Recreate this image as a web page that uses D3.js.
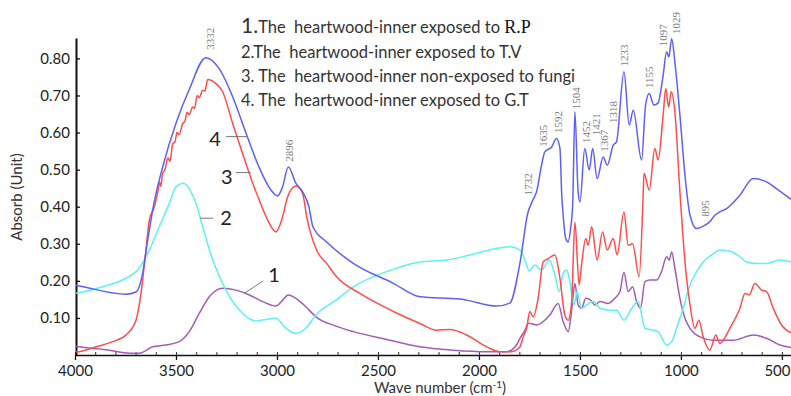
<!DOCTYPE html>
<html lang="en">
<head>
    <meta charset="UTF-8" />
    <title>FTIR spectra of heartwood-inner</title>
    <script src="https://d3js.org/d3.v7.min.js"></script>
    <style>
        body { margin: 0; background: #fff; }
        svg { display: block; }
        .legend text { white-space: pre; }
    </style>
</head>
<body>
<div id="my_chart"></div>
<script>
    // Curve 1 - exposed to R.P (purple)
    var rpWave = [4000, 3979, 3830, 3731, 3682, 3615, 3550, 3484, 3434, 3385, 3335, 3269, 3203, 3137, 3071, 3005, 2972, 2944, 2906, 2857, 2807, 2708, 2622, 2457, 2292, 2127, 1962, 1863, 1814, 1797, 1772, 1756, 1744, 1715, 1649, 1608, 1583, 1558, 1541, 1525, 1509, 1492, 1471, 1447, 1426, 1401, 1360, 1327, 1302, 1282, 1261, 1239, 1220, 1200, 1178, 1154, 1121, 1096, 1071, 1058, 1046, 1030, 1005, 980, 955, 906, 840, 741, 642, 576, 510, 455];
    var rpAbs = [0.024, 0.022, 0.013, 0.005, 0.005, 0.022, 0.027, 0.036, 0.063, 0.112, 0.157, 0.180, 0.175, 0.162, 0.144, 0.132, 0.148, 0.162, 0.153, 0.130, 0.103, 0.078, 0.063, 0.042, 0.022, 0.013, 0.009, 0.009, 0.027, 0.045, 0.067, 0.085, 0.085, 0.081, 0.108, 0.139, 0.090, 0.063, 0.121, 0.193, 0.135, 0.126, 0.153, 0.148, 0.135, 0.144, 0.139, 0.153, 0.171, 0.223, 0.171, 0.184, 0.144, 0.126, 0.198, 0.202, 0.202, 0.225, 0.265, 0.256, 0.278, 0.234, 0.153, 0.099, 0.072, 0.049, 0.040, 0.040, 0.054, 0.045, 0.027, 0.020];

    // Curve 2 - exposed to T.V (cyan)
    var tvWave = [4000, 3979, 3863, 3748, 3690, 3632, 3583, 3533, 3500, 3464, 3426, 3401, 3368, 3318, 3253, 3170, 3104, 3005, 2956, 2906, 2857, 2807, 2708, 2622, 2457, 2292, 2160, 2045, 1913, 1847, 1797, 1772, 1751, 1723, 1690, 1652, 1624, 1603, 1583, 1566, 1550, 1530, 1514, 1492, 1467, 1434, 1401, 1352, 1319, 1282, 1244, 1212, 1178, 1137, 1113, 1071, 1046, 1022, 989, 955, 922, 890, 848, 807, 758, 708, 675, 626, 576, 510, 455];
    var tvAbs = [0.166, 0.168, 0.184, 0.207, 0.229, 0.283, 0.346, 0.409, 0.454, 0.463, 0.440, 0.409, 0.346, 0.256, 0.175, 0.112, 0.092, 0.099, 0.072, 0.058, 0.072, 0.108, 0.148, 0.184, 0.225, 0.251, 0.256, 0.270, 0.287, 0.292, 0.283, 0.256, 0.227, 0.243, 0.229, 0.256, 0.216, 0.171, 0.220, 0.229, 0.198, 0.135, 0.171, 0.126, 0.135, 0.144, 0.126, 0.121, 0.121, 0.094, 0.126, 0.144, 0.072, 0.067, 0.063, 0.027, 0.036, 0.072, 0.126, 0.189, 0.225, 0.251, 0.270, 0.283, 0.280, 0.265, 0.251, 0.247, 0.247, 0.256, 0.251];

    // Curve 3 - non-exposed to fungi (red)
    var fungiWave = [4000, 3979, 3896, 3813, 3748, 3698, 3673, 3649, 3632, 3607, 3590, 3580, 3575, 3566, 3555, 3540, 3530, 3516, 3505, 3495, 3485, 3467, 3455, 3445, 3435, 3417, 3408, 3395, 3385, 3368, 3357, 3343, 3302, 3269, 3219, 3170, 3120, 3088, 3046, 3005, 2972, 2947, 2906, 2873, 2853, 2804, 2754, 2705, 2589, 2426, 2292, 2210, 2144, 2061, 1962, 1896, 1838, 1797, 1781, 1764, 1748, 1731, 1707, 1682, 1657, 1624, 1599, 1575, 1558, 1541, 1525, 1504, 1492, 1471, 1459, 1442, 1415, 1388, 1365, 1335, 1316, 1282, 1261, 1239, 1207, 1187, 1183, 1157, 1129, 1113, 1088, 1075, 1061, 1048, 1030, 1005, 980, 955, 931, 911, 890, 857, 827, 807, 758, 708, 683, 662, 634, 601, 576, 543, 502, 455];
    var fungiAbs = [0.008, 0.009, 0.022, 0.036, 0.054, 0.094, 0.167, 0.283, 0.364, 0.400, 0.440, 0.466, 0.455, 0.490, 0.500, 0.532, 0.522, 0.570, 0.575, 0.600, 0.594, 0.624, 0.632, 0.655, 0.648, 0.669, 0.665, 0.700, 0.694, 0.714, 0.712, 0.743, 0.732, 0.710, 0.624, 0.543, 0.463, 0.418, 0.364, 0.332, 0.373, 0.427, 0.456, 0.436, 0.373, 0.283, 0.247, 0.211, 0.166, 0.118, 0.085, 0.067, 0.069, 0.054, 0.022, 0.009, 0.009, 0.022, 0.049, 0.072, 0.117, 0.103, 0.153, 0.251, 0.260, 0.270, 0.207, 0.108, 0.094, 0.144, 0.359, 0.189, 0.243, 0.314, 0.296, 0.346, 0.256, 0.332, 0.283, 0.314, 0.270, 0.386, 0.296, 0.300, 0.211, 0.431, 0.490, 0.445, 0.557, 0.526, 0.647, 0.719, 0.669, 0.710, 0.656, 0.440, 0.251, 0.135, 0.072, 0.094, 0.049, 0.013, 0.054, 0.031, 0.072, 0.126, 0.166, 0.162, 0.193, 0.175, 0.171, 0.126, 0.081, 0.060];

    // Curve 4 - exposed to G.T (blue)
    var gtWave = [4000, 3979, 3748, 3698, 3665, 3640, 3609, 3566, 3500, 3436, 3352, 3287, 3219, 3153, 3089, 3030, 2997, 2972, 2944, 2906, 2873, 2842, 2822, 2754, 2624, 2426, 2292, 2094, 2061, 1913, 1847, 1797, 1758, 1733, 1715, 1690, 1674, 1640, 1616, 1599, 1590, 1583, 1571, 1558, 1546, 1536, 1525, 1509, 1500, 1476, 1454, 1437, 1415, 1385, 1365, 1335, 1319, 1282, 1256, 1236, 1195, 1175, 1157, 1134, 1113, 1088, 1071, 1060, 1046, 1030, 1005, 980, 955, 922, 881, 856, 832, 807, 774, 708, 642, 576, 527, 455];
    var gtAbs = [0.188, 0.186, 0.164, 0.170, 0.221, 0.310, 0.410, 0.507, 0.625, 0.714, 0.802, 0.773, 0.696, 0.598, 0.507, 0.445, 0.429, 0.454, 0.507, 0.463, 0.440, 0.400, 0.346, 0.305, 0.248, 0.194, 0.157, 0.151, 0.148, 0.132, 0.140, 0.248, 0.383, 0.418, 0.440, 0.512, 0.548, 0.561, 0.584, 0.557, 0.431, 0.377, 0.315, 0.305, 0.342, 0.404, 0.656, 0.440, 0.413, 0.557, 0.499, 0.557, 0.476, 0.534, 0.512, 0.566, 0.575, 0.764, 0.620, 0.660, 0.526, 0.674, 0.705, 0.674, 0.680, 0.755, 0.818, 0.804, 0.853, 0.790, 0.647, 0.485, 0.377, 0.341, 0.350, 0.360, 0.377, 0.386, 0.395, 0.431, 0.476, 0.467, 0.449, 0.420];

    // Peak labels (anchor = bottom of the rotated text, in data units)
    var peakLabels = ["3332", "2896", "1732", "1635", "1592", "1504", "1452", "1421", "1367", "1318", "1233", "1155", "1097", "1029", "895"];
    var peakWave = [3332, 2939, 1756, 1684, 1607, 1519, 1470, 1420, 1381, 1338, 1282, 1158, 1090, 1024, 881];
    var peakAbs = [0.823, 0.521, 0.431, 0.562, 0.599, 0.663, 0.572, 0.593, 0.548, 0.626, 0.778, 0.720, 0.833, 0.866, 0.373];

    // Curve number tags with leader lines
    var tagLabels = ["1", "2", "3", "4"];
    var tagWave = [3015, 3252, 3249, 3307];
    var tagAbs = [0.216, 0.369, 0.481, 0.583];
    var leadFromWave = [3068, 3315, 3203, 3252];
    var leadFromAbs = [0.200, 0.369, 0.492, 0.589];
    var leadToWave = [3163, 3381, 3130, 3147];
    var leadToAbs = [0.166, 0.369, 0.492, 0.589];

    var legendLabels = [
        "The  heartwood-inner exposed to ",
        "2.The  heartwood-inner exposed to T.V",
        "3. The  heartwood-inner non-exposed to fungi",
        "4. The  heartwood-inner exposed to G.T"
    ];

    var xTicks = [4000, 3500, 3000, 2500, 2000, 1500, 1000, 500];
    var yTicks = [0.1, 0.2, 0.3, 0.4, 0.5, 0.6, 0.7, 0.8];

    var width = 791, height = 396;
    var sansFont = "Lato, 'Open Sans', sans-serif";

    const svg = d3.select("#my_chart")
        .append("svg")
        .attr("width", width)
        .attr("height", height)
        .style("background", "#fff");

    const x = d3.scaleLinear().domain([4000, 455]).range([75, 791]);
    const y = d3.scaleLinear().domain([0, 0.855]).range([355, 38]);

    // Minor x ticks
    svg.append("g")
        .attr("transform", "translate(0,355)")
        .call(d3.axisBottom(x).tickValues(d3.range(500, 4001, 100)).tickSize(-3).tickFormat("").tickSizeOuter(0))
        .call(g => g.select(".domain").remove())
        .selectAll("line").attr("stroke", "#333");

    // X axis
    const xAxis = svg.append("g")
        .attr("transform", "translate(0,355)")
        .call(d3.axisBottom(x).tickValues(xTicks).tickSize(5).tickPadding(5).tickSizeOuter(0).tickFormat(d3.format("d")));
    xAxis.select(".domain").attr("stroke", "#111").attr("stroke-width", 1.6);
    xAxis.selectAll("line").attr("stroke", "#111").attr("stroke-width", 1.3);
    xAxis.selectAll("text")
        .style("font-family", sansFont)
        .style("font-size", "15px")
        .attr("fill", "#222");
    // last label sits against the right edge
    xAxis.selectAll(".tick text")
        .filter(d => d === 500)
        .attr("text-anchor", "end")
        .attr("x", 790 - x(500));

    // Y axis
    const yAxis = svg.append("g")
        .attr("transform", "translate(76,0)")
        .call(d3.axisLeft(y).tickValues(yTicks).tickSize(-4).tickPadding(6).tickSizeOuter(0).tickFormat(d3.format(".2f")));
    yAxis.select(".domain").attr("stroke", "#111").attr("stroke-width", 2);
    yAxis.selectAll("line").attr("stroke", "#111").attr("stroke-width", 1.3);
    yAxis.selectAll("text")
        .style("font-family", sansFont)
        .style("font-size", "15px")
        .attr("fill", "#222");

    // Axis titles
    svg.append("text")
        .attr("transform", "translate(22,197) rotate(-90)")
        .attr("text-anchor", "middle")
        .style("font-family", sansFont)
        .style("font-size", "15px")
        .attr("fill", "#333")
        .text("Absorb (Unit)");

    const xTitle = svg.append("text")
        .attr("x", 440)
        .attr("y", 393)
        .attr("text-anchor", "middle")
        .style("font-family", sansFont)
        .style("font-size", "15px")
        .attr("fill", "#333");
    xTitle.append("tspan").text("Wave number (cm");
    xTitle.append("tspan").attr("dy", -5).style("font-size", "10px").text("-1");
    xTitle.append("tspan").attr("dy", 5).text(")");

    // Curves
    const line = d3.line()
        .x(d => x(d[0]))
        .y(d => y(d[1]))
        .curve(d3.curveMonotoneX);

    var series = [
        { w: rpWave, a: rpAbs, color: "#a15db5" },
        { w: tvWave, a: tvAbs, color: "#5cf2f2" },
        { w: fungiWave, a: fungiAbs, color: "#ff4c4c" },
        { w: gtWave, a: gtAbs, color: "#5f5ffa" }
    ];

    svg.append("clipPath").attr("id", "plotClip")
        .append("rect").attr("x", 76).attr("y", 0).attr("width", 715).attr("height", 355);

    series.forEach(s => {
        svg.append("path")
            .datum(s.w.map((w, i) => [w, s.a[i]]))
            .attr("clip-path", "url(#plotClip)")
            .attr("fill", "none")
            .attr("stroke", s.color)
            .attr("stroke-width", 1.5)
            .attr("d", line);
    });

    // Peak labels
    svg.selectAll(".peak")
        .data(peakLabels)
        .enter()
        .append("text")
        .attr("class", "peak")
        .attr("transform", (d, i) => "translate(" + x(peakWave[i]) + "," + y(peakAbs[i]) + ") rotate(-90)")
        .attr("dy", "0.35em")
        .attr("text-anchor", "start")
        .style("font-family", "'Liberation Serif', 'DejaVu Serif', serif")
        .style("font-size", "11px")
        .attr("fill", "#7a7a7a")
        .text(d => d);

    // Curve number tags
    tagLabels.forEach((t, i) => {
        svg.append("line")
            .attr("x1", x(leadFromWave[i])).attr("y1", y(leadFromAbs[i]))
            .attr("x2", x(leadToWave[i])).attr("y2", y(leadToAbs[i]))
            .attr("stroke", "#777")
            .attr("stroke-width", 1);
        svg.append("text")
            .attr("x", x(tagWave[i]))
            .attr("y", y(tagAbs[i]))
            .attr("dy", "0.35em")
            .attr("text-anchor", "middle")
            .style("font-family", sansFont)
            .style("font-size", "20px")
            .attr("fill", "#222")
            .text(t);
    });

    // Legend text
    const legend = svg.append("g")
        .attr("class", "legend")
        .style("font-family", sansFont)
        .attr("fill", "#333");

    const l1 = legend.append("text").attr("x", 241).attr("y", 33).style("font-size", "16.5px");
    l1.append("tspan").style("font-size", "21px").text("1.");
    l1.append("tspan").text(legendLabels[0]);
    l1.append("tspan")
        .style("font-family", "'Liberation Serif', serif")
        .style("font-size", "18px")
        .attr("fill", "#111")
        .text("R.P");

    [58, 82, 106].forEach((yy, i) => {
        legend.append("text")
            .attr("x", 241)
            .attr("y", yy)
            .style("font-size", "16.5px")
            .text(legendLabels[i + 1]);
    });
</script>
</body>
</html>
